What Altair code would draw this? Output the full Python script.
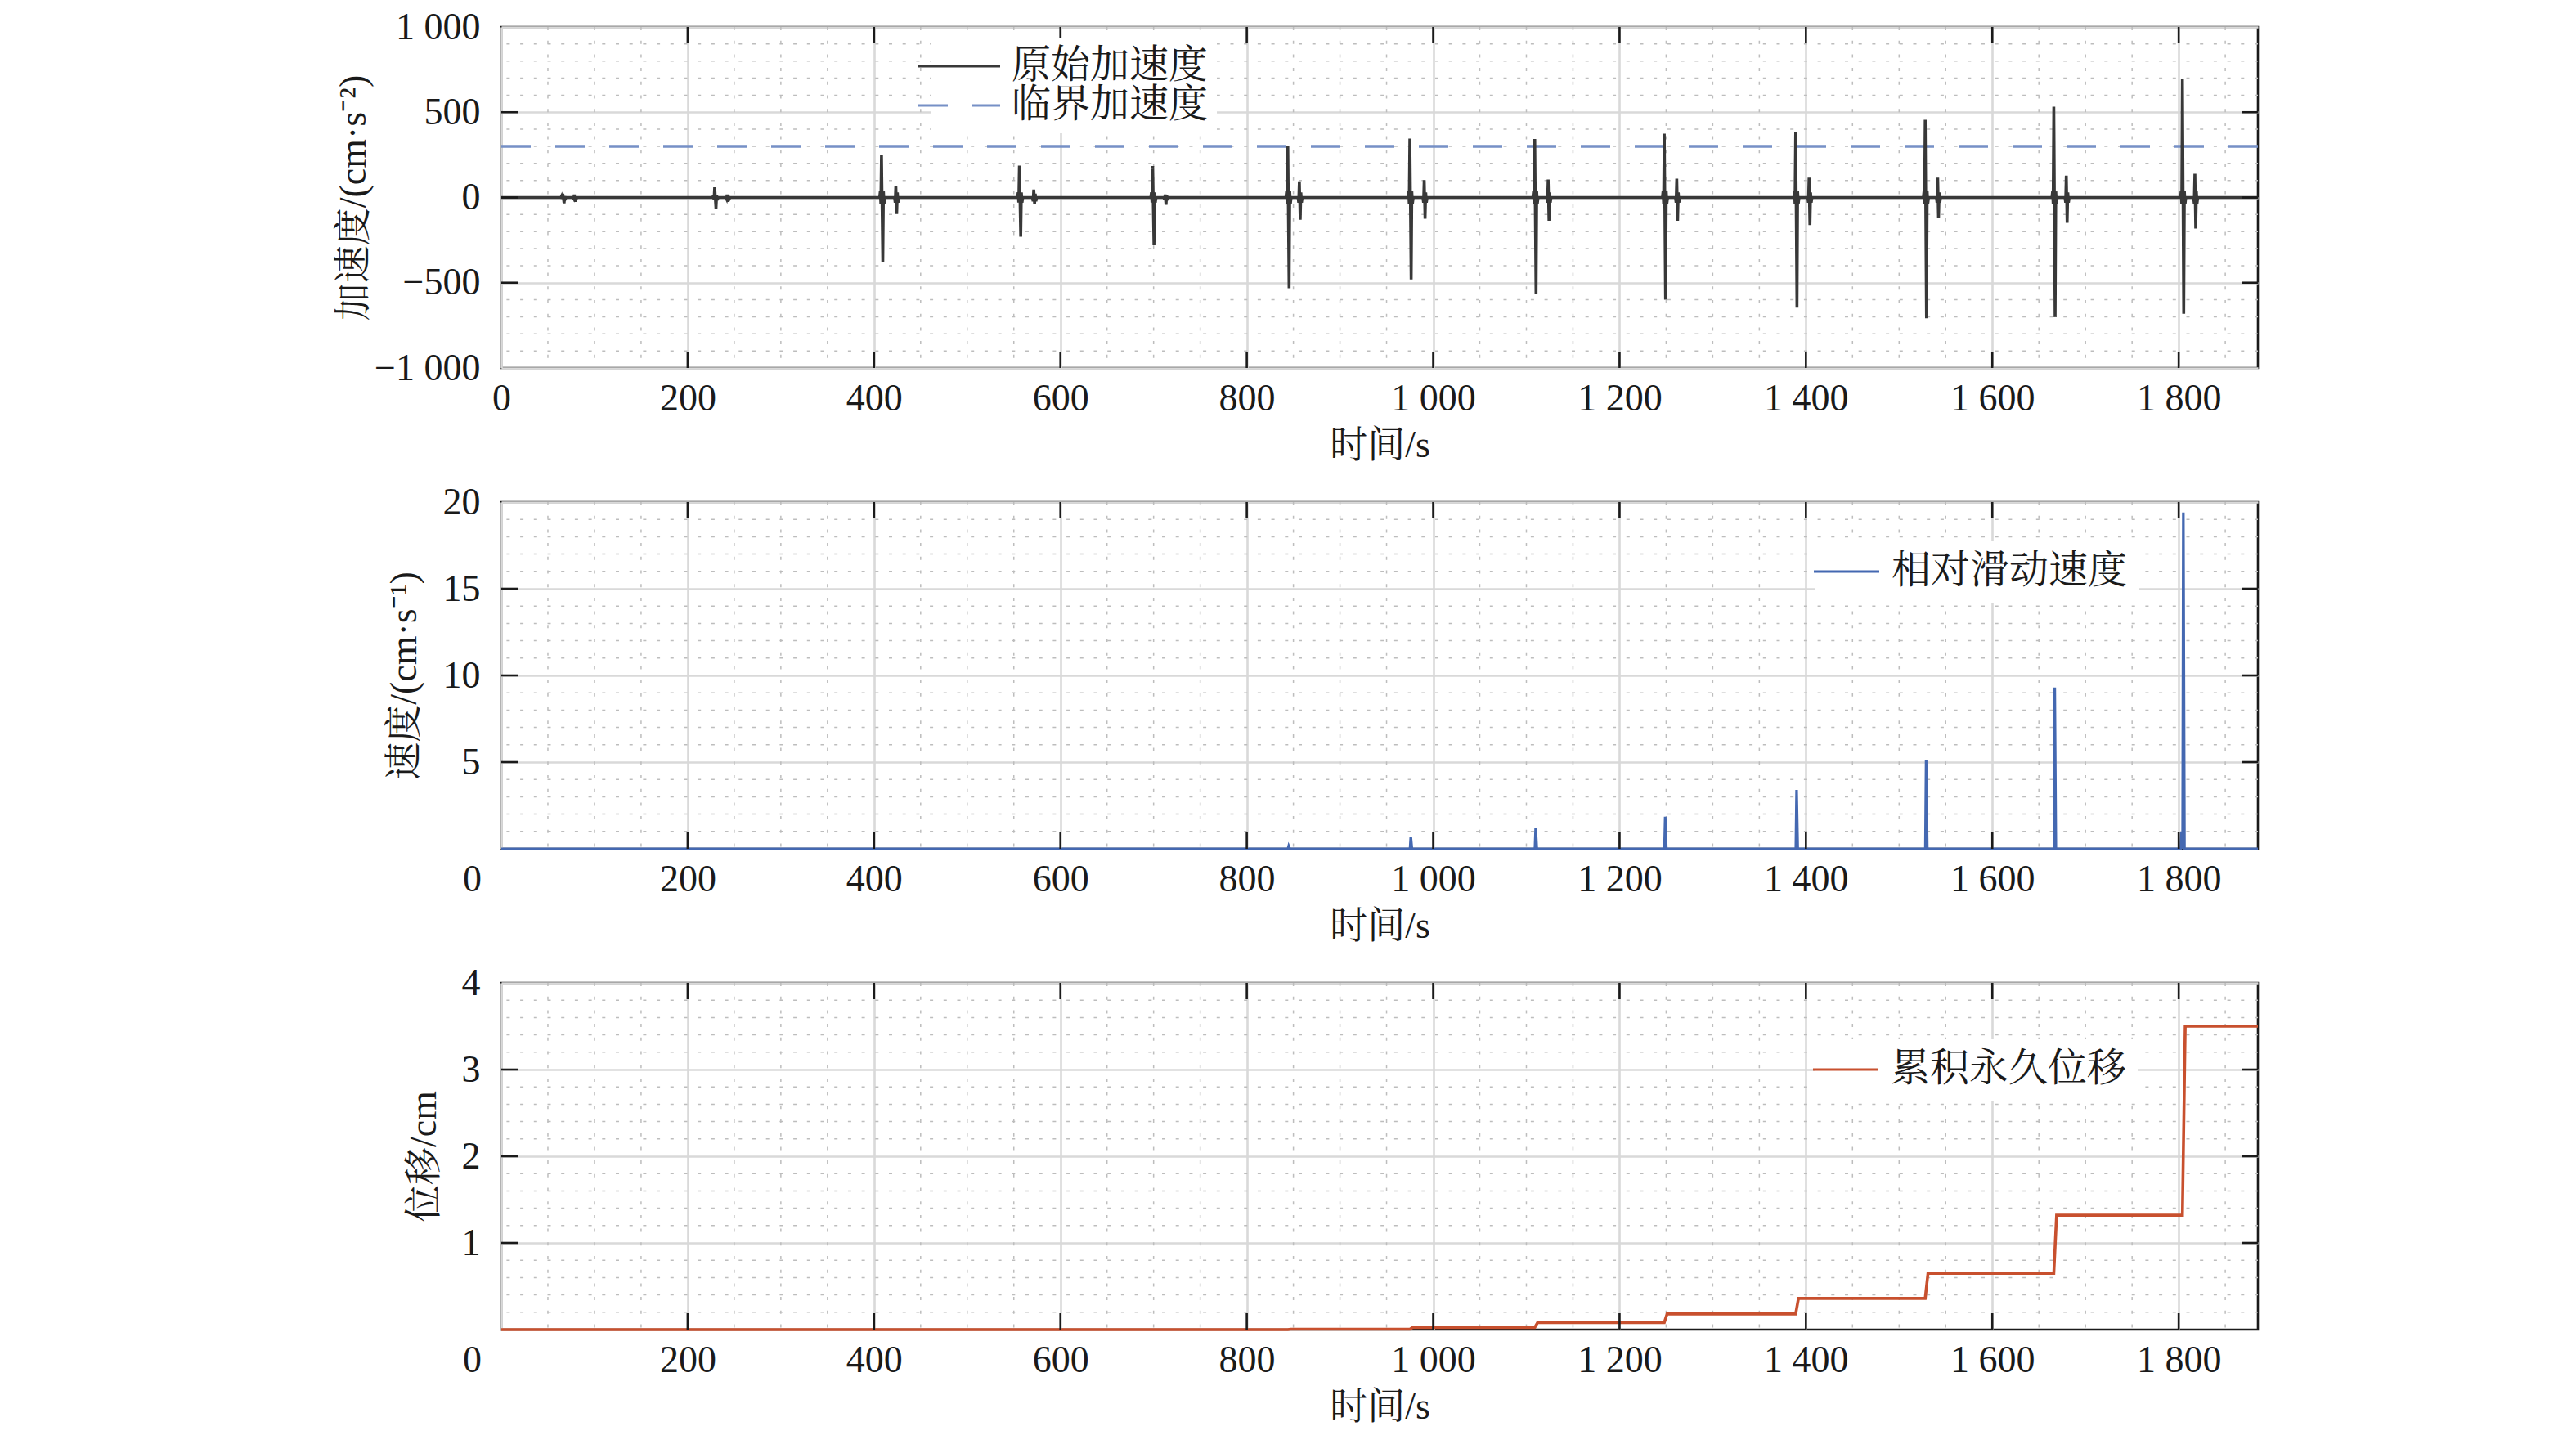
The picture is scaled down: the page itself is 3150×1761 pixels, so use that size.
import altair as alt
import pandas as pd

# ---------------- data ----------------
T_END = 1885

# acceleration bursts: main spike and secondary spike
burst_t   = [67, 230, 409, 557, 700, 845, 976, 1110, 1249, 1390, 1529, 1667, 1805]
main_pos  = [22, 60, 250, 187, 184, 305, 345, 343, 374, 383, 456, 532, 697]
main_neg  = [-34, -65, -378, -230, -281, -532, -481, -566, -600, -646, -709, -702, -682]
main_blob = [8, 15, 35, 30, 30, 35, 35, 35, 35, 35, 35, 35, 40]
sec_t     = [79, 243, 424, 572, 713, 857, 991, 1124, 1262, 1404, 1542, 1680, 1818]
sec_pos   = [17, 17, 68, 46, 17, 94, 102, 105, 110, 116, 116, 128, 139]
sec_neg   = [-25, -25, -97, -36, -43, -131, -124, -136, -136, -162, -119, -148, -182]
sec_blob  = [6, 8, 30, 22, 15, 30, 30, 30, 30, 30, 30, 30, 35]
crit_acc  = 300

# relative sliding velocity spikes
vel_t    = [845, 976, 1110, 1249, 1390, 1529, 1667, 1803, 1805]
vel_peak = [0.16, 0.7, 1.2, 1.85, 3.4, 5.1, 9.3, 1.0, 19.4]

# cumulative permanent displacement steps
disp_t     = [845, 976, 1110, 1249, 1390, 1529, 1667, 1805]
disp_level = [0.005, 0.025, 0.08, 0.18, 0.36, 0.65, 1.32, 3.5]

S_ACC, S_CRIT, S_VEL, S_DISP = "原始加速度", "临界加速度", "相对滑动速度", "累积永久位移"

# ---------------- tables ----------------
acc_rows = [(0.0, 0.0), (T_END, 0.0)]
for t, p, n, b in zip(burst_t, main_pos, main_neg, main_blob):
    acc_rows += [(t - 3.0, 0), (t - 2.3, b), (t - 1.7, -b), (t - 1.0, p),
                 (t + 0.4, n), (t + 1.1, b), (t + 1.8, -b), (t + 2.6, 0)]
for t, p, n, b in zip(sec_t, sec_pos, sec_neg, sec_blob):
    acc_rows += [(t - 2.0, 0), (t - 1.3, -b), (t - 0.6, p), (t + 0.3, n),
                 (t + 1.0, b), (t + 1.7, -b), (t + 2.5, 0)]
acc_rows.sort(key=lambda r: r[0])
df_acc = pd.DataFrame(acc_rows, columns=["x", "y"])
df_acc["series"] = S_ACC
df_crit = pd.DataFrame({"x": [0, T_END], "y": [crit_acc, crit_acc], "series": S_CRIT})

vel_rows = [(0.0, 0.0)]
for t, p in zip(vel_t, vel_peak):
    vel_rows += [(t - 0.8, 0), (t, p), (t + 1.2, 0)]
vel_rows.append((T_END, 0.0))
df_vel = pd.DataFrame(vel_rows, columns=["x", "y"])
df_vel["series"] = S_VEL

disp_rows = [(0.0, 0.0)]
prev = 0.0
for t, lv in zip(disp_t, disp_level):
    disp_rows += [(t - 1.0, prev), (t + 2.0, lv)]
    prev = lv
disp_rows.append((T_END, prev))
df_disp = pd.DataFrame(disp_rows, columns=["x", "y"])
df_disp["series"] = S_DISP

# ---------------- styling ----------------
FONT = "Liberation Serif, Times New Roman, Noto Serif CJK SC, Noto Sans CJK SC"
C_ACC, C_CRIT, C_VEL, C_DISP = "#383838", "#7690c6", "#4468b1", "#c8502e"
W = 2148
TICK = 20
XMAJOR = [0, 200, 400, 600, 800, 1000, 1200, 1400, 1600, 1800]
XMINOR = [v for v in range(50, T_END, 50) if v % 200]
LBL = "replace(format(datum.value, ','), ',', ' ')"

xs = alt.Scale(domain=[0, T_END], nice=False, zero=False)


def legend(x, y, path, label_offset, pad):
    # symbol box is 40 px (sqrt of size); the stroke path itself is wider
    return alt.Legend(orient="none", legendX=x, legendY=y, title=None,
                      fillColor="white", padding=pad, symbolType=path,
                      symbolSize=1600, symbolStrokeWidth=3.2, labelFont=FONT,
                      labelFontSize=48, labelColor="#1a1a1a",
                      labelOffset=label_offset, rowPadding=-4, labelLimit=0)


def panel(lines, ydom, h, ytitle, title_x, y_labels, y_ticks, y_minor, zero_shift):
    ys = alt.Scale(domain=ydom, nice=False, zero=False)
    if zero_shift:
        xlo = {"condition": {"test": "datum.value === 0", "value": zero_shift}, "value": 0}
    else:
        xlo = 0
    x_axis = alt.Axis(values=XMAJOR, labelExpr=LBL, title="时间/s", grid=True,
                      labelPadding=15, titlePadding=12, labelOffset=xlo,
                      labelFlush=False)
    y_axis = alt.Axis(values=y_labels, labelExpr=LBL, title=ytitle, grid=True,
                      labelPadding=26, titleX=title_x, titleBaseline="middle")
    X = alt.X("x:Q", scale=xs, axis=x_axis)
    Y = alt.Y("y:Q", scale=ys, axis=y_axis)

    gx = alt.Chart(pd.DataFrame({"x": XMINOR})).mark_rule(
        color="#bdbdbd", strokeWidth=1.5, strokeDash=[4, 12.7]).encode(x=X)
    gy = alt.Chart(pd.DataFrame({"y": y_minor})).mark_rule(
        color="#bdbdbd", strokeWidth=1.5, strokeDash=[4, 12.7]).encode(y=Y)

    base_lines = [ln.encode(x=X, y=Y) for ln in lines]

    xt = pd.DataFrame({"x": XMAJOR[1:]})
    yt = pd.DataFrame({"y": y_ticks})
    rule = dict(color="#1a1a1a", strokeWidth=2.6)
    t_top = alt.Chart(xt).mark_rule(**rule).encode(x=X, y=alt.value(0), y2=alt.value(TICK))
    t_bot = alt.Chart(xt).mark_rule(**rule).encode(x=X, y=alt.value(h), y2=alt.value(h - TICK))
    t_lft = alt.Chart(yt).mark_rule(**rule).encode(y=Y, x=alt.value(0), x2=alt.value(TICK))
    t_rgt = alt.Chart(yt).mark_rule(**rule).encode(y=Y, x=alt.value(W), x2=alt.value(W - TICK))

    return alt.layer(gx, gy, *base_lines, t_top, t_bot, t_lft, t_rgt).properties(
        width=W, height=h)


# top panel (stroke path 100 px wide: from -30 to +70 of the 40 px symbol box)
leg_top = legend(526, 14, "M-2.5,0H2.5", 40, 10)
acc_dom = [S_ACC, S_CRIT]
col_top = alt.Color("series:N", scale=alt.Scale(domain=acc_dom, range=[C_ACC, C_CRIT]), legend=leg_top)
dash_top = alt.StrokeDash("series:N", scale=alt.Scale(domain=acc_dom, range=[[1, 0], [36, 30]]), legend=leg_top)
crit_line = alt.Chart(df_crit).mark_line(strokeWidth=3.4).encode(color=col_top, strokeDash=dash_top)
acc_line = alt.Chart(df_acc).mark_line(strokeWidth=3.6).encode(color=col_top, strokeDash=dash_top)
top = panel([crit_line, acc_line], [-1000, 1000], 417, "加速度/(cm·s⁻²)", -181,
            [-1000, -500, 0, 500, 1000], [-500, 0, 500],
            [v for v in range(-900, 1000, 100) if v % 500], 0)

# middle panel (stroke path 80 px wide: from -20 to +60)
leg_mid = legend(1607, 47, "M-2,0H2", 31, 14)
vel_line = alt.Chart(df_vel).mark_line(strokeWidth=3.2).encode(
    color=alt.Color("series:N", scale=alt.Scale(domain=[S_VEL], range=[C_VEL]), legend=leg_mid))
mid = panel([vel_line], [0, 20], 424, "速度/(cm·s⁻¹)", -119,
            [5, 10, 15, 20], [5, 10, 15],
            [v for v in range(1, 20) if v % 5], -36)

# bottom panel
leg_bot = legend(1606, 68, "M-2,0H2", 31, 14)
disp_line = alt.Chart(df_disp).mark_line(strokeWidth=3.6).encode(
    color=alt.Color("series:N", scale=alt.Scale(domain=[S_DISP], range=[C_DISP]), legend=leg_bot))
bot = panel([disp_line], [0, 4], 424, "位移/cm", -95,
            [1, 2, 3, 4], [1, 2, 3],
            [v / 5 for v in range(1, 20) if v % 5], -36)

chart = alt.vconcat(top, mid, bot, spacing=164, bounds="flush").resolve_scale(
    color="independent", strokeDash="independent"
).resolve_legend(color="independent", strokeDash="independent").properties(
    padding={"left": 399, "top": 0, "right": 20, "bottom": 10},
    background="white",
).configure_view(stroke="#1a1a1a", strokeWidth=2.6).configure_axis(
    labelFont=FONT, labelFontSize=46, labelColor="#1a1a1a",
    titleFont=FONT, titleFontSize=46, titleFontWeight="normal", titleColor="#1a1a1a",
    gridColor="#d9d9d9", gridWidth=2.6, domain=False, ticks=False, tickSize=0,
)

chart.save("out.html", embed_options={"renderer": "svg", "actions": False})
